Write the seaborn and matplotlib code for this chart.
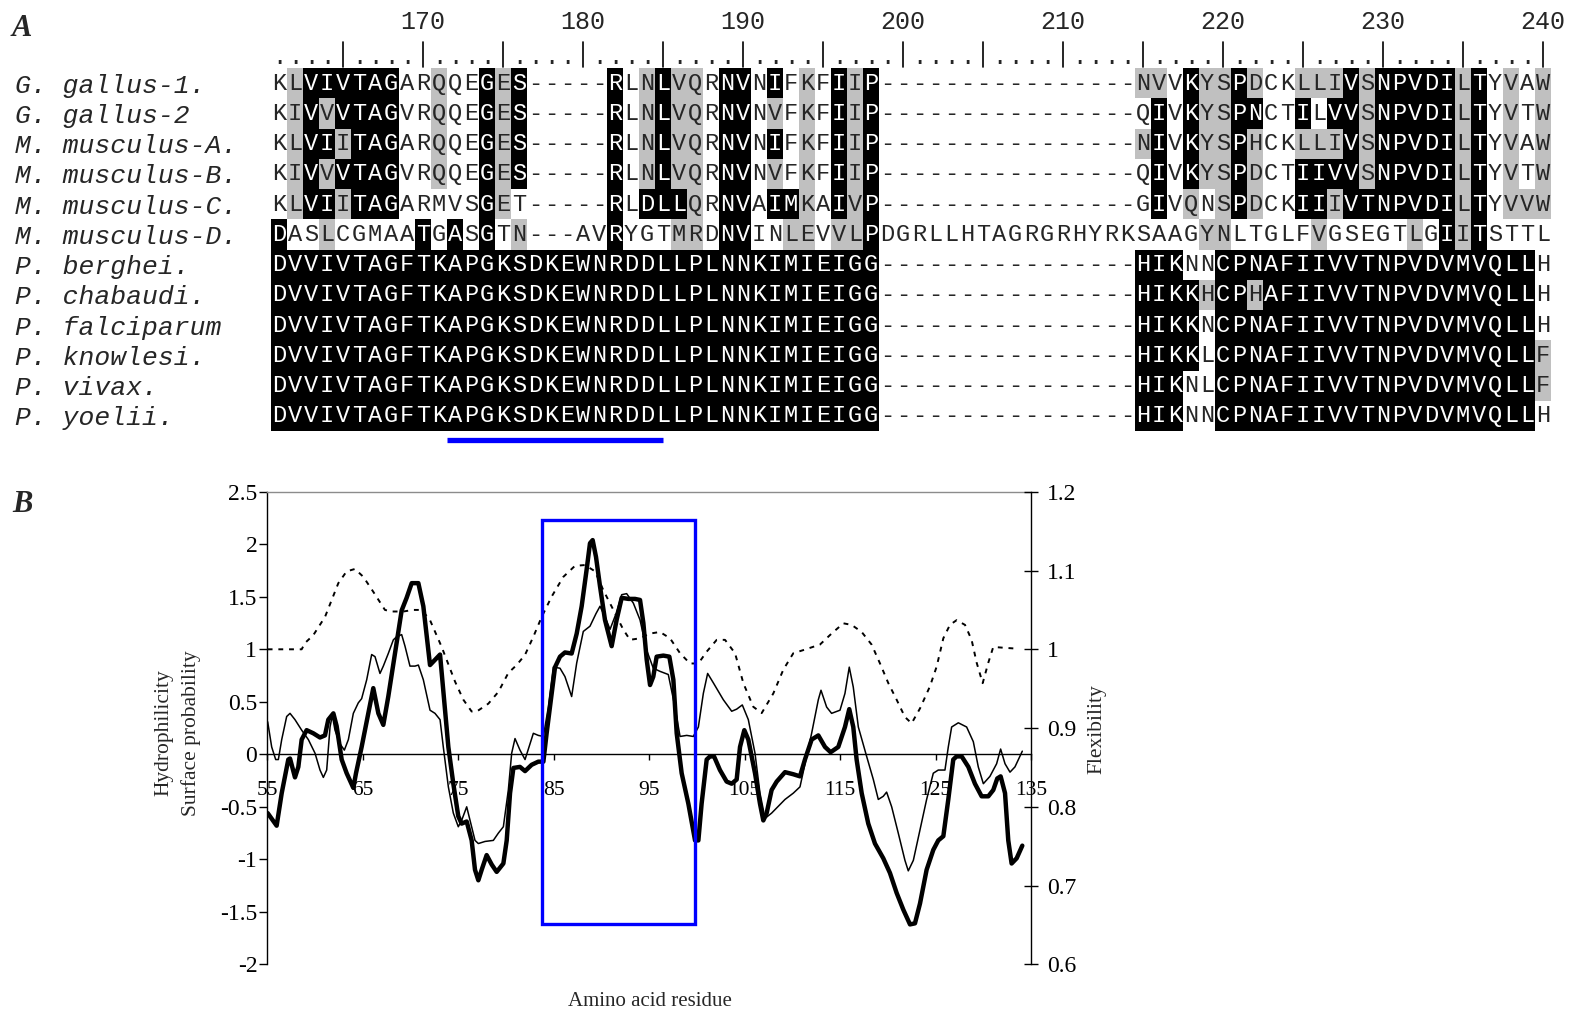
import numpy as np
import pandas as pd
import matplotlib
matplotlib.use("Agg")
import matplotlib.pyplot as plt
import seaborn as sns
from matplotlib.colors import ListedColormap
from matplotlib.transforms import blended_transform_factory
from matplotlib.patches import Rectangle

# ---------------- Panel A data ----------------
species = ["G. gallus-1.", "G. gallus-2", "M. musculus-A.", "M. musculus-B.",
           "M. musculus-C.", "M. musculus-D.", "P. berghei.", "P. chabaudi.",
           "P. falciparum", "P. knowlesi.", "P. vivax.", "P. yoelii."]

gap16 = "-" * 16
sequences = [
    "KLVIVTAGARQQEGES-----RLNLVQRNVNIFKFIIP" + gap16 + "NVVKYSPDCKLLIVSNPVDILTYVAW",
    "KIVVVTAGVRQQEGES-----RLNLVQRNVNVFKFIIP" + gap16 + "QIVKYSPNCTILVVSNPVDILTYVTW",
    "KLVIITAGARQQEGES-----RLNLVQRNVNIFKFIIP" + gap16 + "NIVKYSPHCKLLIVSNPVDILTYVAW",
    "KIVVVTAGVRQQEGES-----RLNLVQRNVNVFKFIIP" + gap16 + "QIVKYSPDCTIIVVSNPVDILTYVTW",
    "KLVIITAGARMVSGET-----RLDLLQRNVAIMKAIVP" + gap16 + "GIVQNSPDCKIIIVTNPVDILTYVVW",
    "DASLCGMAATGASGTN---AVRYGTMRDNVINLEVVLPDGRLLHTAGRGRHYRKSAAGYNLTGLFVGSEGTLGIITSTTL",
    "DVVIVTAGFTKAPGKSDKEWNRDDLLPLNNKIMIEIGG" + gap16 + "HIKNNCPNAFIIVVTNPVDVMVQLLH",
    "DVVIVTAGFTKAPGKSDKEWNRDDLLPLNNKIMIEIGG" + gap16 + "HIKKHCPHAFIIVVTNPVDVMVQLLH",
    "DVVIVTAGFTKAPGKSDKEWNRDDLLPLNNKIMIEIGG" + gap16 + "HIKKNCPNAFIIVVTNPVDVMVQLLH",
    "DVVIVTAGFTKAPGKSDKEWNRDDLLPLNNKIMIEIGG" + gap16 + "HIKKLCPNAFIIVVTNPVDVMVQLLF",
    "DVVIVTAGFTKAPGKSDKEWNRDDLLPLNNKIMIEIGG" + gap16 + "HIKNLCPNAFIIVVTNPVDVMVQLLF",
    "DVVIVTAGFTKAPGKSDKEWNRDDLLPLNNKIMIEIGG" + gap16 + "HIKNNCPNAFIIVVTNPVDVMVQLLH",
]

# shading: B = identical (black), G = similar (grey), . = none
w16 = "." * 16
shading = [
    ".GBBBBBB..G..BGB" + "....." + "B.GBGG.BB.B.G.BGB" + w16 + "GG.BGGBG..GGGBGBBBBBGB.G.G",
    ".GBGBBBB..G..BGB" + "....." + "B.GBGG.BB.G.G.BGB" + w16 + ".B.BGGBB..B.BBGBBBBBGB.G.G",
    ".GBBGBBB..G..BGB" + "....." + "B.GBGG.BB.B.G.BGB" + w16 + "GB.BGGBG..GGGBGBBBBBGB.G.G",
    ".GBGBBBB..G..BGB" + "....." + "B.GBGG.BB.G.G.BGB" + w16 + ".B.BGGBG..BBBBGBBBBBGB.G.G",
    ".GBBGBBB.....BG." + "....." + "B.BBBG.BB.BBG.BGB" + w16 + ".B.G.GBG..BBGBBBBBBBGB.GGG",
    "B..G.....B.B.B.G" + "....." + "B...GG.BB..GG.GGB" + w16 + "....GG.....G.....G.BGB....",
    "B" * 38 + w16 + "BBB.." + "B" * 20 + ".",
    "B" * 38 + w16 + "BBBBGBBG" + "B" * 17 + ".",
    "B" * 38 + w16 + "BBBB." + "B" * 20 + ".",
    "B" * 38 + w16 + "BBBB." + "B" * 20 + "G",
    "B" * 38 + w16 + "BBB.." + "B" * 20 + "G",
    "B" * 38 + w16 + "BBB.." + "B" * 20 + ".",
]
first_residue = 161
ruler_labels = [170, 180, 190, 200, 210, 220, 230, 240]
peptide_start, peptide_end = 172, 185

# ---------------- Panel B data ----------------
res_hydro = [55.07, 56.01, 56.54, 57.23, 57.41, 57.93, 58.28, 58.63, 59.15, 59.85, 60.55, 61.07,
             61.42, 61.95, 62.29, 62.82, 63.34, 64.04, 64.32, 64.91, 65.61, 66.13, 66.66, 67.18,
             67.70, 68.40, 69.10, 69.62, 70.15, 70.85, 71.37, 72.07, 72.59, 73.12, 73.46, 73.99,
             74.51, 75.03, 75.38, 75.91, 76.43, 76.78, 77.13, 77.48, 78.00, 78.53, 79.05, 79.75,
             80.10, 80.45, 80.80, 81.49, 82.02, 82.71, 83.41, 83.94, 84.28, 84.63, 85.16, 85.68,
             86.20, 86.90, 87.43, 87.95, 88.47, 88.82, 89.10, 89.45, 89.87, 90.39, 91.09, 91.61,
             92.14, 92.84, 93.53, 94.06, 94.41, 94.76, 95.11, 95.45, 95.80, 96.50, 97.13, 97.55,
             97.90, 98.42, 99.12, 99.82, 100.17, 100.51, 101.04, 101.39, 101.81, 102.43, 103.13,
             103.66, 104.18, 104.53, 104.98, 105.40, 106.10, 106.62, 106.97, 107.32, 107.84,
             108.37, 109.24, 110.11, 110.81, 111.33, 112.03, 112.73, 113.43, 114.02, 114.82,
             115.52, 115.97, 116.39, 116.74, 117.27, 117.96, 118.66, 119.53, 120.23, 120.93,
             121.63, 122.33, 122.85, 123.38, 124.07, 124.77, 125.29, 125.82, 126.34, 126.86,
             127.21, 127.74, 128.44, 129.13, 129.83, 130.53, 131.05, 131.47, 131.82, 132.28,
             132.62, 132.97, 133.50, 134.09]
hydrophilicity = [-0.56, -0.68, -0.37, -0.05, -0.04, -0.22, -0.12, 0.14, 0.23, 0.20, 0.16, 0.18,
                  0.33, 0.39, 0.27, -0.05, -0.18, -0.32, -0.18, 0.07, 0.39, 0.63, 0.39, 0.28,
                  0.55, 0.96, 1.37, 1.49, 1.63, 1.63, 1.41, 0.85, 0.90, 0.95, 0.61, 0.07,
                  -0.28, -0.59, -0.66, -0.64, -0.82, -1.10, -1.20, -1.10, -0.96, -1.05, -1.12, -1.04,
                  -0.82, -0.37, -0.13, -0.12, -0.16, -0.10, -0.07, -0.07, 0.20, 0.45, 0.83, 0.93,
                  0.97, 0.96, 1.15, 1.41, 1.76, 2.01, 2.04, 1.88, 1.60, 1.28, 1.03, 1.28,
                  1.49, 1.48, 1.48, 1.47, 1.25, 0.90, 0.66, 0.74, 0.93, 0.94, 0.93, 0.71,
                  0.20, -0.18, -0.47, -0.82, -0.82, -0.47, -0.05, -0.02, -0.02, -0.15, -0.26,
                  -0.28, -0.24, 0.07, 0.23, 0.14, -0.18, -0.47, -0.63, -0.56, -0.34,
                  -0.26, -0.17, -0.19, -0.21, -0.05, 0.14, 0.18, 0.07, 0.02, 0.07,
                  0.26, 0.43, 0.26, -0.05, -0.37, -0.66, -0.85, -0.99, -1.13, -1.32,
                  -1.48, -1.62, -1.61, -1.42, -1.10, -0.91, -0.82, -0.78, -0.43, -0.05,
                  -0.02, -0.02, -0.12, -0.28, -0.40, -0.40, -0.34, -0.23, -0.21, -0.37,
                  -0.82, -1.04, -0.99, -0.87]

res_surface = [55.07, 55.49, 55.91, 56.19, 56.54, 57.06, 57.41, 57.93, 58.63, 59.33, 60.03, 60.55,
               60.90, 61.25, 61.60, 61.84, 62.12, 62.64, 63.10, 63.52, 64.04, 64.56, 64.91, 65.44,
               65.96, 66.31, 66.83, 67.18, 67.70, 68.23, 68.58, 69.10, 69.45, 69.97, 70.50, 70.85,
               71.37, 72.07, 72.59, 73.12, 73.46, 73.99, 74.51, 75.03, 75.38, 75.91, 76.26, 76.78,
               77.13, 77.83, 78.70, 79.23, 79.75, 80.27, 80.62, 80.97, 81.49, 82.02, 82.54, 82.89,
               83.41, 83.94, 84.46, 84.98, 85.68, 86.20, 86.90, 87.43, 88.12, 88.82, 89.45, 89.87,
               90.39, 90.92, 91.55, 92.14, 92.66, 93.36, 94.06, 94.76, 95.45, 96.15, 97.02, 97.72,
               98.25, 98.95, 99.64, 100.17, 100.69, 101.14, 101.74, 102.78, 103.66, 104.18, 104.77,
               105.40, 106.10, 106.62, 107.15, 107.84, 109.24, 110.11, 110.81, 112.03, 112.73,
               113.01, 113.60, 114.12, 115.00, 115.52, 115.97, 116.39, 116.92, 117.79, 118.49,
               119.01, 119.53, 119.88, 120.41, 121.10, 121.80, 122.15, 122.68, 123.38, 124.07,
               124.77, 125.29, 125.99, 126.34, 126.69, 127.39, 128.26, 128.96, 129.48, 130.01,
               130.70, 131.40, 131.82, 132.28, 132.80, 133.32, 134.09]
surface_probability = [0.31, 0.07, -0.05, -0.05, 0.14, 0.36, 0.39, 0.33, 0.23, 0.14, 0.01, -0.15,
                       -0.22, -0.15, 0.26, 0.37, 0.23, 0.10, 0.04, 0.14, 0.39, 0.49, 0.53, 0.71,
                       0.95, 0.93, 0.77, 0.84, 0.96, 1.09, 1.12, 1.14, 1.03, 0.84, 0.84, 0.85,
                       0.71, 0.42, 0.39, 0.33, 0.07, -0.31, -0.56, -0.69, -0.63, -0.50, -0.63, -0.82,
                       -0.85, -0.83, -0.82, -0.75, -0.69, -0.34, 0.01, 0.15, 0.04, -0.05, 0.10, 0.20,
                       0.18, 0.17, 0.45, 0.83, 0.82, 0.74, 0.55, 0.87, 1.17, 1.22, 1.34, 1.41,
                       1.31, 1.19, 1.34, 1.52, 1.53, 1.44, 1.28, 0.99, 0.82, 0.79, 0.76, 0.45,
                       0.17, 0.18, 0.17, 0.26, 0.58, 0.77, 0.68, 0.52, 0.41, 0.43, 0.47,
                       0.33, 0.01, -0.37, -0.61, -0.56, -0.43, -0.37, -0.31, 0.20, 0.52,
                       0.61, 0.45, 0.39, 0.42, 0.58, 0.83, 0.64, 0.26, -0.02, -0.24,
                       -0.43, -0.40, -0.36, -0.50, -0.75, -1.01, -1.11, -1.01, -0.72, -0.43,
                       -0.18, -0.15, -0.15, 0.07, 0.26, 0.30, 0.26, 0.12, -0.12, -0.28,
                       -0.21, -0.09, 0.05, -0.09, -0.17, -0.12, 0.03]

res_flex = [55.07, 58.63, 58.98, 59.85, 61.07, 62.47, 63.34, 64.21, 65.09, 66.13, 67.35, 68.05,
            69.27, 70.32, 71.19, 72.07, 73.29, 74.69, 75.56, 76.43, 76.96, 78.18, 79.23, 80.27,
            81.14, 82.02, 82.89, 83.76, 84.81, 86.03, 87.25, 88.30, 89.35, 90.22, 91.27, 92.31,
            93.01, 94.06, 95.11, 96.15, 97.20, 98.25, 99.29, 100.17, 101.04, 102.09, 102.96,
            104.01, 104.88, 105.92, 106.80, 108.02, 109.06, 110.11, 111.16, 112.90, 114.12,
            115.35, 116.22, 117.27, 118.31, 119.19, 120.06, 120.93, 121.80, 122.50, 123.38,
            124.42, 125.12, 125.82, 126.51, 127.21, 128.09, 128.78, 129.31, 129.94, 130.53,
            131.05, 132.10, 133.32]
flexibility = [1.000, 1.000, 1.008, 1.018, 1.041, 1.084, 1.099, 1.102, 1.092, 1.073, 1.050, 1.048,
               1.048, 1.050, 1.050, 1.037, 1.003, 0.959, 0.936, 0.921, 0.921, 0.931, 0.946, 0.970,
               0.980, 0.993, 1.016, 1.041, 1.067, 1.092, 1.106, 1.107, 1.099, 1.075, 1.050, 1.025,
               1.012, 1.014, 1.020, 1.022, 1.014, 0.995, 0.982, 0.982, 0.997, 1.012, 1.012,
               0.995, 0.957, 0.927, 0.919, 0.944, 0.974, 0.995, 0.999, 1.006, 1.020,
               1.033, 1.031, 1.022, 1.006, 0.982, 0.957, 0.936, 0.914, 0.906, 0.925,
               0.953, 0.978, 1.014, 1.031, 1.037, 1.031, 1.012, 0.983, 0.957, 0.983,
               1.003, 1.002, 1.001]

box_residues = (83.8, 99.8)
box_values = (-1.62, 2.23)

x_ticks = [55, 65, 75, 85, 95, 105, 115, 125, 135]
left_ticks = [-2, -1.5, -1, -0.5, 0, 0.5, 1, 1.5, 2, 2.5]
right_ticks = [0.6, 0.7, 0.8, 0.9, 1.0, 1.1, 1.2]

# ---------------- style ----------------
sns.set_theme(style="ticks")
plt.rcParams["font.family"] = ["Liberation Serif", "DejaVu Serif"]
plt.rcParams["axes.unicode_minus"] = False

W, H = 1569, 1011
fig = plt.figure(figsize=(W / 100, H / 100), dpi=100)
fig.patch.set_facecolor("white")

MONO = ["Liberation Mono", "DejaVu Sans Mono"]

# ---------------- Panel A ----------------
ncol = len(sequences[0])
code = {".": 0, "G": 1, "B": 2}
shade_df = pd.DataFrame([[code[c] for c in s] for s in shading], index=species,
                        columns=list(range(first_residue, first_residue + ncol)))
letters = np.array([list(s) for s in sequences])

axA = fig.add_axes([271 / W, 1 - 431 / H, 1280 / W, 363 / H])
cmap = ListedColormap(["#ffffff", "#c0c0c0", "#000000"])
sns.heatmap(shade_df, ax=axA, cmap=cmap, vmin=0, vmax=2, cbar=False,
            annot=letters, fmt="", annot_kws={"fontfamily": MONO, "fontsize": 17},
            xticklabels=False, yticklabels=False, linewidths=0)
axA.tick_params(length=0)
for sp in axA.spines.values():
    sp.set_visible(False)

# species labels
tr_lab = blended_transform_factory(fig.transFigure, axA.transData)
for i, name in enumerate(species):
    axA.text(15 / W, i + 0.5, name, transform=tr_lab, ha="left", va="center_baseline",
             fontfamily=MONO, fontstyle="italic", fontsize=19, clip_on=False)

# ruler
tr_rul = blended_transform_factory(axA.transData, fig.transFigure)
for j in range(ncol):
    r = first_residue + j
    xc = j + 0.5
    if r % 5 == 0:
        axA.plot([xc, xc], [1 - 42 / H, 1 - 67 / H], transform=tr_rul, color="black",
                 lw=1.2, clip_on=False)
    else:
        axA.text(xc, 1 - 64 / H, ".", transform=tr_rul, ha="center", va="baseline",
                 fontfamily=MONO, fontsize=17, clip_on=False)
for r in ruler_labels:
    axA.text(r - first_residue + 0.5, 1 - 22 / H, str(r), transform=tr_rul, ha="center",
             va="center", fontfamily=MONO, fontsize=18, clip_on=False)

# peptide underline
axA.plot([peptide_start - first_residue, peptide_end - first_residue + 0.5], [12.3, 12.3],
         color="#0000ff", lw=3.8, solid_capstyle="butt", clip_on=False)

fig.text(22 / W, 1 - 28 / H, "A", fontsize=22, fontweight="bold", fontstyle="italic",
         ha="center", va="center")

# ---------------- Panel B ----------------
axB = fig.add_axes([267 / W, 1 - 964.3 / H, 764 / W, 472.5 / H])
axB.set_facecolor("none")
sns.lineplot(x=res_hydro, y=hydrophilicity, ax=axB, color="black", linewidth=3.2,
             sort=False, estimator=None)
sns.lineplot(x=res_surface, y=surface_probability, ax=axB, color="black", linewidth=1.1,
             sort=False, estimator=None)
axB.set_xlim(55, 135)
axB.set_ylim(-2, 2.5)
axB.set_xticks(x_ticks)
axB.set_xticklabels([str(t) for t in x_ticks])
axB.set_yticks(left_ticks)
axB.set_yticklabels([f"{t:g}" for t in left_ticks])
axB.spines["right"].set_visible(False)
axB.spines["top"].set_visible(True)
axB.spines["top"].set_color("#8c8c8c")
axB.spines["top"].set_linewidth(1.0)
axB.spines["bottom"].set_position(("data", 0))
for sp in ("left", "bottom"):
    axB.spines[sp].set_linewidth(1.0)
    axB.spines[sp].set_color("black")
axB.tick_params(axis="x", direction="out", length=4.5, width=1, pad=15, labelsize=15.5,
                colors="black")
axB.tick_params(axis="y", direction="out", length=5.5, width=1, pad=1.5, labelsize=17,
                colors="black")
axB.set_xlabel("")
axB.set_ylabel("")

ax2 = axB.twinx()
sns.lineplot(x=res_flex, y=flexibility, ax=ax2, color="black", linewidth=1.4,
             linestyle=(0, (2.5, 3)), sort=False, estimator=None)
ax2.set_ylim(0.6, 1.2)
ax2.set_yticks(right_ticks)
ax2.set_yticklabels([f"{t:g}" for t in right_ticks])
for sp in ("top", "left", "bottom"):
    ax2.spines[sp].set_visible(False)
ax2.spines["right"].set_linewidth(1.0)
ax2.spines["right"].set_color("black")
ax2.tick_params(axis="y", direction="inout", length=10, width=1, pad=6.5, labelsize=17,
                colors="black")
ax2.set_ylabel("")

ax2.add_patch(Rectangle((box_residues[0], box_values[0]), box_residues[1] - box_residues[0],
                        box_values[1] - box_values[0], transform=axB.transData,
                        fill=False, edgecolor="#0000ff", linewidth=2.4, zorder=5))

fig.text(164 / W, 1 - 733 / H, "Hydrophilicity", rotation=90, ha="center", va="center",
         fontsize=15.5)
fig.text(191 / W, 1 - 733 / H, "Surface probability", rotation=90, ha="center", va="center",
         fontsize=15.5)
fig.text(1097 / W, 1 - 729 / H, "Flexibility", rotation=90, ha="center", va="center",
         fontsize=15.5)
fig.text(650 / W, 1 - 1001 / H, "Amino acid residue", ha="center", va="center", fontsize=15)
fig.text(22 / W, 1 - 505 / H, "B", fontsize=22, fontweight="bold", fontstyle="italic",
         ha="center", va="center")

fig.savefig("out.png", dpi=100, facecolor="white")
